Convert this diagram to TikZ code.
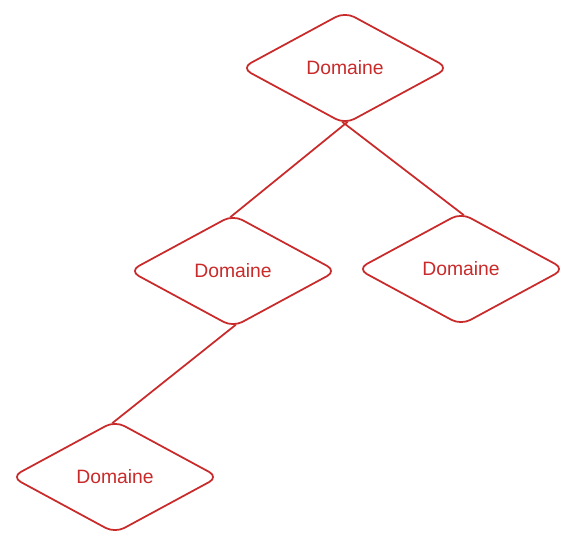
\documentclass[tikz,border=0pt]{standalone}
\usepackage{fontspec}
\setmainfont{Liberation Sans}
\usetikzlibrary{shapes.geometric}
\definecolor{domainred}{HTML}{C92A2A}
\tikzset{
  domainbox/.style={diamond, draw=domainred, line width=1pt, rounded corners=6pt,
    minimum width=4.14cm, minimum height=2.24cm, inner sep=0pt, outer sep=0pt,
    text=domainred, font=\fontsize{11}{13}\selectfont},
  link/.style={draw=domainred, line width=1pt, shorten <=-2pt, shorten >=-2pt}
}
\begin{document}
\begin{tikzpicture}
  % Rahmen
  \useasboundingbox (0,0) rectangle (11.54,10.92);
  % Rauten
  \node[domainbox] (top) at (6.9,9.56) {Domaine};
  \node[domainbox] (left) at (4.66,5.5) {Domaine};
  \node[domainbox] (right) at (9.22,5.54) {Domaine};
  \node[domainbox] (bottom) at (2.3,1.38) {Domaine};
  % Verbindungen
  \draw[link] (top.south) -- (left.north);
  \draw[link] (top.south) -- (right.north);
  \draw[link] (left.south) -- (bottom.north);
\end{tikzpicture}
\end{document}
